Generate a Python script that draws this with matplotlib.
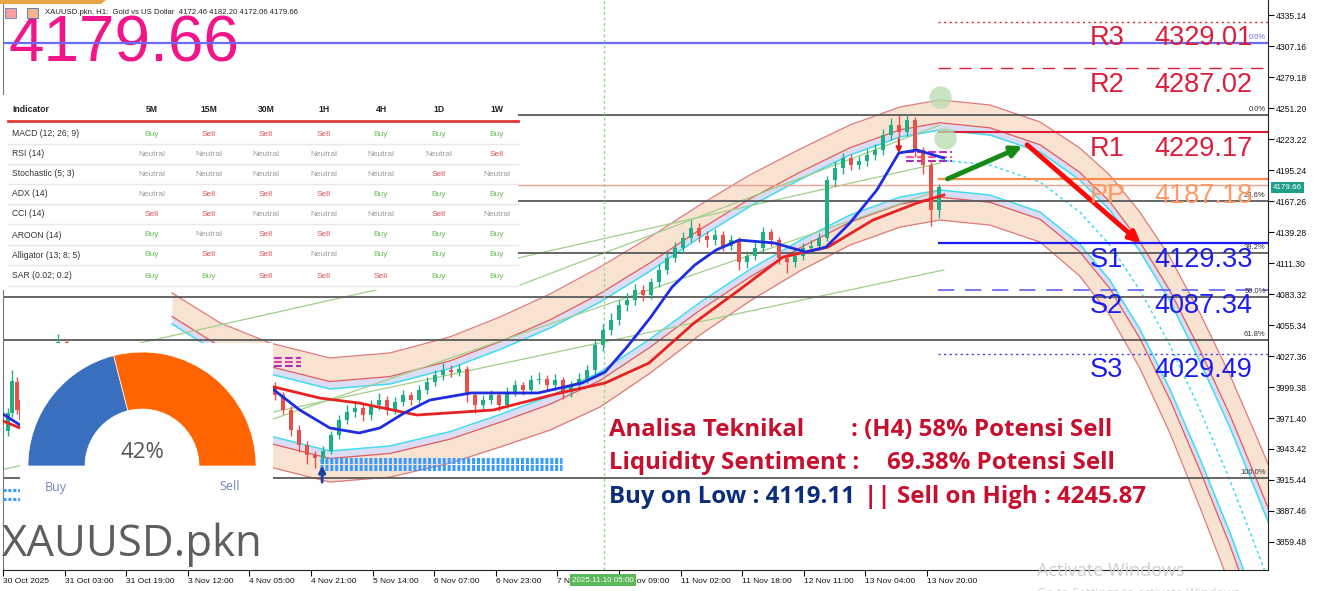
import numpy as np
import matplotlib.pyplot as plt
from matplotlib.patches import Rectangle, Wedge, Polygon
import matplotlib.transforms as mtransforms

plt.rcParams['font.family'] = ['Liberation Sans', 'DejaVu Sans']

# ---------------- data ----------------
price_ticks = [4335.14, 4307.16, 4279.18, 4251.20, 4223.22, 4195.24, 4167.26, 4139.28,
               4111.30, 4083.32, 4055.34, 4027.36, 3999.38, 3971.40, 3943.42, 3915.44,
               3887.46, 3859.48]
time_ticks = [0, 16, 32, 48, 64, 80, 96, 112, 128, 144, 160, 176, 192, 208, 224, 240]
time_labels = ['30 Oct 2025', '31 Oct 03:00', '31 Oct 19:00', '3 Nov 12:00', '4 Nov 05:00',
               '4 Nov 21:00', '5 Nov 14:00', '6 Nov 07:00', '6 Nov 23:00', '7 Nov 16:00',
               '10 Nov 09:00', '11 Nov 02:00', '11 Nov 18:00', '12 Nov 11:00', '13 Nov 04:00',
               '13 Nov 20:00']
marker_bar = 156.1
marker_label = '2025.11.10 05:00'

# main candles (2h steps)
first_open = 4000.0
closes = [3992, 3979, 3961, 3947, 3938, 3935, 3942, 3956, 3970, 3977, 3980, 3974, 3983, 3988,
          3979, 3986, 3992, 3988, 3997, 4004, 4010, 4015, 4013, 4016, 3992, 3983, 3988, 3992,
          3983, 3995, 4001, 3997, 4006, 4007, 4001, 4006, 3995, 4001, 4007, 4015, 4037, 4051,
          4060, 4073, 4078, 4087, 4082, 4094, 4105, 4116, 4125, 4134, 4143, 4136, 4132, 4137,
          4127, 4132, 4112, 4118, 4125, 4139, 4132, 4116, 4112, 4118, 4125, 4127, 4134, 4186,
          4197, 4206, 4200, 4203, 4209, 4213, 4227, 4236, 4230, 4240, 4213, 4200, 4159, 4179.66]
highs = [4004, 3995, 3982, 3965, 3951, 3942, 3946, 3960, 3974, 3983, 3986, 3984, 3988, 3994,
         3991, 3990, 3997, 3995, 4001, 4008, 4015, 4021, 4019, 4020, 4018, 3995, 3992, 3997,
         3995, 3999, 4006, 4004, 4010, 4013, 4010, 4011, 4008, 4005, 4012, 4019, 4042, 4056,
         4066, 4078, 4084, 4092, 4091, 4098, 4110, 4120, 4130, 4139, 4150, 4147, 4140, 4142,
         4140, 4137, 4135, 4122, 4130, 4144, 4142, 4135, 4120, 4123, 4129, 4132, 4138, 4190,
         4203, 4211, 4210, 4208, 4214, 4219, 4232, 4242, 4245, 4246, 4243, 4216, 4204, 4182.2]
lows = [3988, 3975, 3955, 3941, 3930, 3926, 3931, 3939, 3952, 3966, 3972, 3969, 3970, 3979,
        3974, 3975, 3982, 3983, 3985, 3993, 4000, 4006, 4008, 4009, 3986, 3976, 3979, 3984,
        3978, 3980, 3991, 3992, 3993, 4002, 3996, 3997, 3989, 3990, 3997, 4003, 4011, 4032,
        4046, 4055, 4068, 4073, 4077, 4079, 4090, 4101, 4112, 4120, 4130, 4130, 4126, 4128,
        4122, 4123, 4105, 4107, 4114, 4121, 4127, 4110, 4102, 4108, 4114, 4121, 4123, 4131,
        4181, 4192, 4195, 4196, 4199, 4204, 4209, 4222, 4225, 4226, 4207, 4192, 4145, 4152]
first_bar = 70.6
candle_step = 2.08

# candles peeking out at the far left
left_bar = [1.2, 2.4, 3.6, 4.6, 14.2, 16.5]
left_open = [3960, 3976, 4004, 3988, 4010, 4040]
left_close = [3976, 4005, 3979, 3970, 4040, 4020]
left_high = [3980, 4015, 4008, 3990, 4047, 4043]
left_low = [3955, 3972, 3975, 3966, 4005, 4015]

# moving averages
ma_fast_bar = [0, 4.4, 70.4, 77.1, 84.9, 92.5, 97.9, 104.2, 110.9, 121.6, 139.0, 150.4, 156.4,
               162.1, 168.1, 173.8, 179.7, 185.2, 191.2, 200.3, 208.6, 213.8, 220.0, 227.0,
               232.7, 237.4, 244.4]
ma_fast = [3975.0, 3965.1, 3996.7, 3978.6, 3962.4, 3957.9, 3962.4, 3975.9, 3987.6, 3994.0,
           3994.0, 4003.0, 4012.9, 4035.5, 4061.7, 4089.6, 4109.5, 4123.0, 4132.0, 4129.4,
           4121.2, 4125.7, 4147.4, 4177.2, 4210.6, 4213.3, 4206.1]
ma_slow_bar = [0, 4.4, 70.4, 82.3, 92.5, 107.5, 127.3, 144.7, 156.4, 167.8, 179.5, 191.2,
               202.6, 214.3, 226.0, 237.4, 244.4]
ma_slow = [3968.7, 3962.4, 3999.4, 3989.4, 3984.9, 3974.1, 3978.6, 3994.0, 4003.0, 4021.0,
           4057.1, 4086.9, 4116.7, 4125.7, 4150.1, 4165.4, 4172.7]

# regression channel
chan_bar = [43.9, 56.4, 69.4, 84.9, 100.5, 116.1, 129.1, 142.1, 155.1, 168.1, 181.0, 194.0,
            207.0, 220.0, 233.0, 243.4, 256.4, 269.4, 279.7, 287.5, 295.3, 303.1, 310.9,
            318.7, 325.2, 331.7]
chan_mid = [4028.3, 4001.2, 3983.1, 3969.6, 3974.1, 3987.6, 4003.9, 4021.9, 4044.5, 4073.4,
            4105.0, 4133.9, 4159.1, 4181.7, 4197.9, 4204.3, 4199.7, 4184.4, 4157.3, 4127.5,
            4086.9, 4037.3, 3978.6, 3915.4, 3856.8, 3798.1]
chan_half = [56, 56, 56, 56, 56, 57, 58.7, 61.4, 63.2, 61.4, 58.7, 56.9, 55, 54.2, 54.2,
             54.2, 54.2, 54.2, 57.8, 63.2, 70.4, 79.4, 87.6, 94.8, 101.1, 106.5]

# trend lines (bar, price) pairs
trend_lines = [((35.6, 4039.1), (243.4, 4201.5)),
               ((-0.8, 3924.5), (244.4, 4105.0)),
               ((69.4, 3969.6), (243.4, 4177.2)),
               ((134.3, 4091.4), (243.4, 4235.9))]

# fibonacci levels
fib_prices = [4244.9, 4167.3, 4120.3, 4080.6, 4041.8, 3917.2]
fib_labels = ['0.0%', '23.6%', '38.2%', '50.0%', '61.8%', '100.0%']
blue_level = 4310.3
last_price = 4179.66

# pivots
pivot_names = ['R3', 'R2', 'R1', 'PP', 'S1', 'S2', 'S3']
pivot_values = [4329.01, 4287.02, 4229.17, 4187.18, 4129.33, 4087.34, 4029.49]
pivot_start = 243.0

# zones / markers
liq_prices = [3934.4, 3931.7, 3928.1, 3925.4]
left_liq = [(3906.4, 4.4), (3898.3, 16.1)]
ob_left = [4025.5, 4021.9, 4018.3]
ob_right = [4211.5, 4207.0, 4203.4]
circle_bars = [243.4, 244.7]
circle_prices = [4261.1, 4224.1]

# signal table
tf_cols = ['5M', '15M', '30M', '1H', '4H', '1D', '1W']
ind_names = ['MACD (12; 26; 9)', 'RSI (14)', 'Stochastic (5; 3)', 'ADX (14)', 'CCI (14)',
             'AROON (14)', 'Alligator (13; 8; 5)', 'SAR (0.02; 0.2)']
signals = [['Buy', 'Sell', 'Sell', 'Sell', 'Buy', 'Buy', 'Buy'],
           ['Neutral', 'Neutral', 'Neutral', 'Neutral', 'Neutral', 'Neutral', 'Sell'],
           ['Neutral', 'Neutral', 'Neutral', 'Neutral', 'Neutral', 'Sell', 'Neutral'],
           ['Neutral', 'Sell', 'Sell', 'Sell', 'Buy', 'Buy', 'Buy'],
           ['Sell', 'Sell', 'Neutral', 'Neutral', 'Neutral', 'Sell', 'Neutral'],
           ['Buy', 'Neutral', 'Sell', 'Sell', 'Buy', 'Buy', 'Buy'],
           ['Buy', 'Sell', 'Sell', 'Neutral', 'Buy', 'Buy', 'Buy'],
           ['Buy', 'Buy', 'Sell', 'Sell', 'Sell', 'Buy', 'Buy']]

buy_pct = 42
tech_pct = 58
liq_pct = 69.38
buy_low = 4119.11
sell_high = 4245.87
header = 'XAUUSD.pkn, H1:  Gold vs US Dollar  4172.46 4182.20 4172.06 4179.66'

# ---------------- figure ----------------
W, H = 1319, 591
fig = plt.figure(figsize=(W / 100, H / 100), dpi=100)
fig.patch.set_facecolor('white')
ax = fig.add_axes([3 / W, 21 / H, 1265 / W, 570 / H])
ax.set_xlim(0, 328.6)
ax.set_ylim(3834.2, 4348.7)
ax.set_facecolor('white')

# overlay in pixel coords
ov = fig.add_axes([0, 0, 1, 1], zorder=5)
ov.set_xlim(0, W)
ov.set_ylim(H, 0)
ov.axis('off')
ov.patch.set_alpha(0)

# channel
cb = np.array(chan_bar)
cm = np.array(chan_mid)
ch = np.array(chan_half)
peach = '#f8e3d3'
lav = '#dcdcf4'
ax.fill_between(cb, cm + 0.62 * ch, cm + ch, color=peach, lw=0, zorder=1)
ax.fill_between(cb, cm - ch, cm - 0.62 * ch, color=peach, lw=0, zorder=1)
ax.fill_between(cb, cm + 0.5 * ch, cm + 0.62 * ch, color=lav, lw=0, zorder=1)
ax.fill_between(cb, cm - 0.62 * ch, cm - 0.5 * ch, color=lav, lw=0, zorder=1)
for s in (1, -1):
    ax.plot(cb, cm + s * ch, color='#e07a7a', lw=0.9, zorder=1.5)
    ax.plot(cb, cm + s * 0.62 * ch, color='#e25a5a', lw=0.9, zorder=1.5)
    ax.plot(cb, cm + s * 0.5 * ch, color='#40dcef', lw=1.1, zorder=1.5)
fut = cb >= 240
ax.plot(cb[fut], cm[fut], color='#40dcef', lw=1.1, ls=(0, (2, 2)), zorder=1.5)

# trend lines
for (x0, y0), (x1, y1) in trend_lines:
    ax.plot([x0, x1], [y0, y1], color='#9fd08a', lw=0.9, zorder=1.8)

# horizontal levels
ax.axhline(blue_level, color='#6a6af5', lw=1.6, zorder=2)
ax.text(328.0, blue_level + 1, '0.0%', color='#6a6af5', fontsize=5.5, ha='right', va='bottom', zorder=6)
for p, lab in zip(fib_prices, fib_labels):
    ax.axhline(p, color='#5a5a5a', lw=1.3, zorder=2)
    ax.text(328.0, p + 1.5, lab, color='#333333', fontsize=5.5, ha='right', va='bottom', zorder=6)
ax.axhline(4181.5, color='#e8a491', lw=1.0, zorder=2)
ax.axvline(marker_bar, color='#9ad38f', lw=1.0, ls=(0, (2, 2)), zorder=2)

# pivots
pv_style = {'R3': ('#dc1e3c', (0, (1.5, 2.5)), 1.0), 'R2': ('#dc1e3c', (0, (9, 6)), 1.0),
            'R1': ('#dc1e3c', '-', 1.5), 'PP': ('#ff8a4c', '-', 1.6),
            'S1': ('#1c1cf0', '-', 1.6), 'S2': ('#6c6cf5', (0, (9, 6)), 1.3),
            'S3': ('#3a3af0', (0, (1.5, 2.5)), 1.0)}
for name, val in zip(pivot_names, pivot_values):
    col, ls, lw = pv_style[name]
    ax.hlines(val, pivot_start, 328.6, colors=col, linestyles=[ls], lw=lw, zorder=2.5)
    tc = '#ff9a66' if name == 'PP' else col
    if name.startswith('S'):
        tc = '#1c1cf0'
    ax.text(282.3, val - 15, name, color=tc, fontsize=19.5, va='center', ha='left', zorder=6)
    ax.text(299.2, val - 15, f'{val:.2f}', color=tc, fontsize=19.5, va='center', ha='left', zorder=6)

# liquidity zones and order blocks
for p in liq_prices:
    ax.hlines(p, 82.3, 145.2, colors='#3a9cff', linestyles=[(0, (1, 0.6))], lw=2.2, zorder=3)
for p, x1 in left_liq:
    ax.hlines(p, 0, x1, colors='#3a9cff', linestyles=[(0, (1, 0.6))], lw=2.2, zorder=3)
for i, p in enumerate(ob_left):
    ax.hlines(p, 70.4, 77.4, colors=['#c02cc0', '#e040a0', '#a030c0'][i], linestyles='--', lw=1.5, zorder=3)
for i, p in enumerate(ob_right):
    ax.hlines(p, 234.5, 246.5, colors=['#c02cc0', '#ff5aa0', '#a030c0'][i], linestyles='--', lw=1.5, zorder=3)

# candles
c_close = np.array(closes, dtype=float)
c_open = np.r_[first_open, c_close[:-1]]
c_x = first_bar + candle_step * np.arange(len(c_close))
all_x = np.r_[left_bar, c_x]
all_o = np.r_[left_open, c_open]
all_c = np.r_[left_close, c_close]
all_h = np.r_[left_high, highs]
all_l = np.r_[left_low, lows]
up = all_c >= all_o
cols = np.where(up, '#1fae86', '#e8504a')
ax.vlines(all_x, all_l, all_h, colors=cols, lw=1.0, zorder=3.2)
ax.bar(all_x, np.maximum(np.abs(all_c - all_o), 0.8), bottom=np.minimum(all_o, all_c),
       width=1.0, color=cols, lw=0, zorder=3.3)

# moving averages
ax.plot(ma_slow_bar[:2], ma_slow[:2], color='#e82222', lw=2.0, zorder=4)
ax.plot(ma_slow_bar[2:], ma_slow[2:], color='#e82222', lw=2.0, zorder=4)
ax.plot(ma_fast_bar[:2], ma_fast[:2], color='#1f2de0', lw=2.0, zorder=4)
ax.plot(ma_fast_bar[2:], ma_fast[2:], color='#1f2de0', lw=2.0, zorder=4)

# markers and arrows
ax.scatter(circle_bars, circle_prices, s=260, color='#b7dcae', alpha=0.75, lw=0, zorder=5)
ax.annotate('', xy=(82.9, 3931), xytext=(82.9, 3911),
            arrowprops=dict(arrowstyle='-|>', color='#1f3f9f', lw=2, mutation_scale=10), zorder=5)
ax.annotate('', xy=(232.7, 4208), xytext=(232.7, 4226),
            arrowprops=dict(arrowstyle='-|>', color='#e02020', lw=1.5, mutation_scale=8), zorder=5)
ax.annotate('', xy=(265.5, 4217.8), xytext=(244.7, 4186.2),
            arrowprops=dict(arrowstyle='-|>', color='#168a16', lw=3.5, mutation_scale=16), zorder=5)
ax.annotate('', xy=(296.1, 4127.5), xytext=(265.5, 4219.6),
            arrowprops=dict(arrowstyle='-|>', color='#ff0808', lw=3.5, mutation_scale=16), zorder=5)

# axes styling
ax.spines['top'].set_visible(False)
ax.spines['left'].set_color('#777777')
ax.spines['right'].set_color('#222222')
ax.spines['bottom'].set_color('#222222')
ax.yaxis.tick_right()
ax.set_yticks(price_ticks)
ax.set_yticklabels([f'{v:.2f}' for v in price_ticks])
ax.tick_params(axis='y', direction='out', length=4, pad=1.5, labelsize=6.2, colors='#111111')
ax.set_xticks(time_ticks)
ax.set_xticklabels(time_labels)
ax.tick_params(axis='x', direction='out', length=4, pad=1.5, labelsize=6.0, colors='#111111')
for lab in ax.get_xticklabels():
    lab.set_ha('left')

# current price tag on axis
trans = mtransforms.blended_transform_factory(ax.transAxes, ax.transData)
ax.text(1.004, last_price, f'{last_price:.2f}', transform=trans, fontsize=5.8, color='white',
        va='center', ha='left', clip_on=False, zorder=7,
        bbox=dict(boxstyle='square,pad=0.25', fc='#1f9e86', ec='none'))

# big price and header (under the blue level line)
ax.text(8, 45, f'{last_price:.2f}', transform=ov.transData, fontsize=46, color='#f2148a',
        va='center', ha='left', zorder=1.9)
ov.add_patch(Polygon([[0, 0], [106, 0], [101, 4], [0, 4]], closed=True, fc='#e9a444', ec='none'))
ov.add_patch(Rectangle((5, 8), 11, 10, fc='#f4a0a0', ec='#6080c0', lw=0.6))
ov.add_patch(Rectangle((27, 8), 11, 10, fc='#f6b48a', ec='#4070c0', lw=0.6))
ov.text(45, 13, header, fontsize=5.6, color='#222222', va='center', ha='left')

# signal table
ov.add_patch(Rectangle((0, 95), 518, 195, fc='white', ec='none'))
col_x = [152, 209, 266, 324, 381, 439, 497]
row_y = [134, 154, 174, 194, 214, 235, 255, 276]
sig_col = {'Buy': '#6cbf5a', 'Sell': '#d45454', 'Neutral': '#9a9a9a'}
ov.text(12, 110, 'Indicator', fontsize=6.2, fontweight='bold', color='#222222', va='center')
for x, t in zip(col_x, tf_cols):
    ov.text(x, 110, t, fontsize=6.2, fontweight='bold', color='#222222', va='center', ha='center')
ov.plot([8, 518], [121, 121], color='#e03a3a', lw=2)
for y, name, row in zip(row_y, ind_names, signals):
    ov.text(12, y, name, fontsize=6.2, color='#333333', va='center')
    for x, s in zip(col_x, row):
        ov.text(x, y, s, fontsize=6.0, color=sig_col[s], va='center', ha='center')
    ov.plot([8, 518], [y + 10, y + 10], color='#e8e8e8', lw=1)

# gauge
ov.add_patch(Rectangle((20, 343), 253, 167, fc='white', ec='none'))
cx, cy, r_out, ring = 142, 466, 114, 57
split = 360 - (180 - 1.8 * buy_pct)
ov.add_patch(Wedge((cx, cy), r_out, 180, split, width=ring, fc='#3a6fbe', ec='white', lw=0.5))
ov.add_patch(Wedge((cx, cy), r_out, split, 360, width=ring, fc='#ff6400', ec='white', lw=0.5))
ov.text(cx, 452, f'{buy_pct}%', fontsize=16, color='#555555', ha='center', va='center',
        family=['Open Sans', 'DejaVu Sans'])
ov.text(56, 487, 'Buy', fontsize=9, color='#7386bb', ha='center', va='center',
        family=['Open Sans', 'DejaVu Sans'])
ov.text(230, 487, 'Sell', fontsize=9, color='#7386bb', ha='center', va='center',
        family=['Open Sans', 'DejaVu Sans'])

ov.text(2, 545, 'XAUUSD.pkn', fontsize=31.5, color='#5e5e5e', ha='left', va='center',
        family=['Open Sans', 'DejaVu Sans'])

# analysis text
red = '#c80f2e'
navy = '#0c2c7c'
bold = dict(fontsize=17.3, fontweight='bold', va='center', ha='left', family=['Open Sans', 'DejaVu Sans'])
ov.text(609, 430, 'Analisa Teknikal', color=red, **bold)
ov.text(851, 430, f': (H4) {tech_pct}% Potensi Sell', color=red, **bold)
ov.text(609, 463, 'Liquidity Sentiment :', color=red, **bold)
ov.text(887, 463, f'{liq_pct:.2f}% Potensi Sell', color=red, **bold)
ov.text(609, 497, f'Buy on Low : {buy_low:.2f}', color=navy, **bold)
ov.text(864, 497, f'|| Sell on High : {sell_high:.2f}', color=red, **bold)

# x-axis date highlight
ov.text(603, 580, marker_label, fontsize=5.8, color='white', ha='center', va='center',
        bbox=dict(boxstyle='square,pad=0.3', fc='#5cb85c', ec='none'))

# watermark
ov.text(1037, 571, 'Activate Windows', fontsize=13, color='#cfcfcf', ha='left', va='center',
        family=['Open Sans', 'DejaVu Sans'])
ov.text(1037, 594, 'Go to Settings to activate Windows.', fontsize=9, color='#d5d5d5', ha='left',
        va='center', family=['Open Sans', 'DejaVu Sans'])

fig.savefig('out.png', dpi=100)
